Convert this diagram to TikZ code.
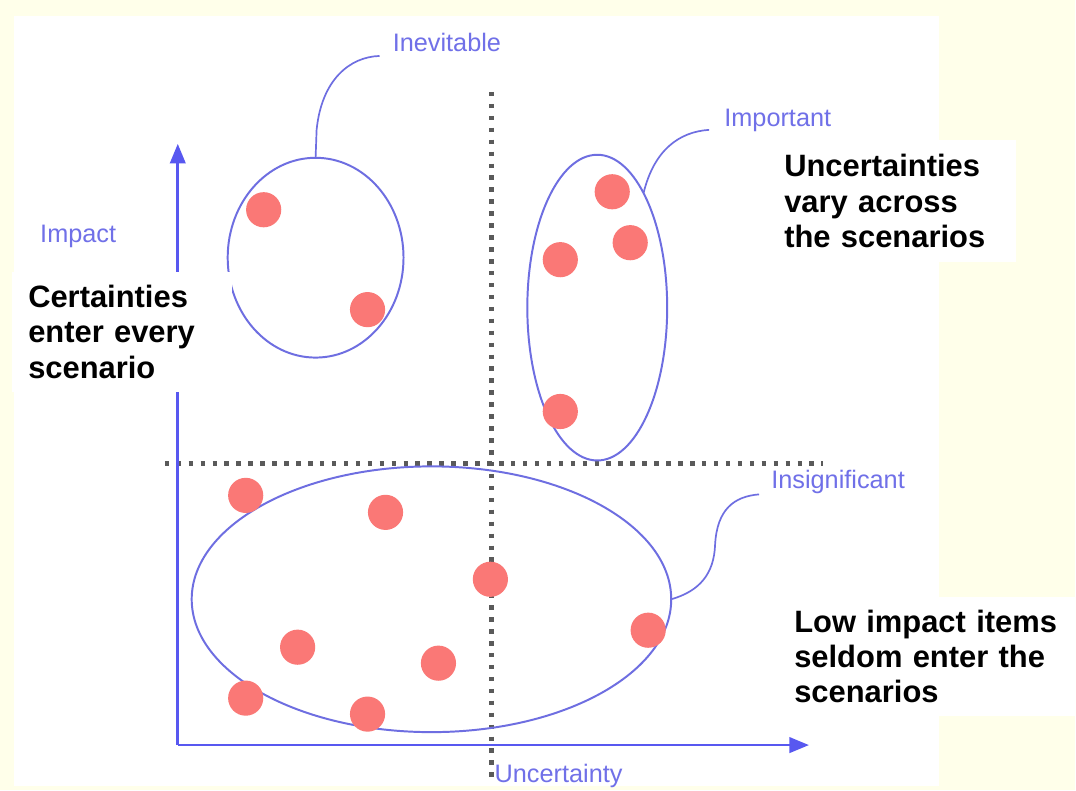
\documentclass[tikz,border=0pt]{standalone}
\usepackage{fontspec}
\setmainfont{Liberation Sans}
\usetikzlibrary{shapes.geometric,arrows.meta}

\definecolor{cream}{RGB}{255,255,234}
\definecolor{axisblue}{RGB}{88,88,240}
\definecolor{ringblue}{RGB}{110,110,225}
\definecolor{tagblue}{RGB}{112,112,232}
\definecolor{dotred}{RGB}{250,120,118}
\definecolor{gridgray}{RGB}{90,90,90}

\begin{document}
\begin{tikzpicture}[x=0.025cm, y=-0.025cm,
  axis/.style = {draw=axisblue, line width=2pt,
    -{Triangle[length=14pt, width=11pt]}},
  split/.style = {draw=gridgray, line width=3.2pt,
    dash pattern=on 3.2pt off 5.3pt},
  group/.style = {shape=ellipse, draw=ringblue, line width=1.4pt,
    inner sep=0pt, outer sep=0pt},
  lead/.style = {draw=ringblue, line width=1.2pt},
  tag/.style = {font=\fontsize{18}{20}\selectfont, text=tagblue,
    inner sep=0pt, anchor=base west},
  note/.style = {fill=white, anchor=north west, align=left,
    inner ysep=0pt, minimum height=3cm,
    font=\fontsize{22}{25}\selectfont\bfseries},
  dot/.style = {shape=circle, fill=dotred, inner sep=0pt,
    minimum size=0.88cm}]

  % paper and plotting area
  \fill[cream] (0,0) rectangle (1076,791);
  \fill[white] (14,16) rectangle (940,787);

  % quadrant lines
  \draw[split] (492,92) -- (492,782);
  \draw[split] (165,464) -- (824,464);

  % axes
  \coordinate (origin) at (178,746);
  \coordinate (ytip) at (178,144);
  \coordinate (xtip) at (810,746);
  \draw[axis] (origin) -- (ytip);
  \draw[axis] (origin) -- (xtip);
  \node[tag] (ylbl) at (40,243) {Impact};
  \node[tag] (xlbl) at (495,783) {Uncertainty};

  % groups of items
  \node[group, minimum width=4.4cm, minimum height=5cm] (inev) at (316,258) {};
  \node[group, minimum width=3.5cm, minimum height=7.65cm] (imp) at (598,308) {};
  \node[group, minimum width=12cm, minimum height=6.65cm] (ins) at (432,600) {};

  \foreach \px/\py [count=\i] in {264/210, 368/310,
      613/192, 631/243, 561/260, 561/412,
      246/496, 386/513, 491/580, 649/631,
      298/648, 439/664, 246/699, 368/715}
    \node[dot] (d\i) at (\px,\py) {};

  % group names and their leaders
  \node[tag] (inevlbl) at (393,52) {Inevitable};
  \node[tag] (implbl) at (725,127) {Important};
  \node[tag] (inslbl) at (772,489) {Insignificant};

  \draw[lead] (inev.north) -- (317,130)
    .. controls (322,80) and (350,57) .. ([shift={(-13,4)}]inevlbl.base west);
  \draw[lead] (imp.68)
    .. controls (655,150) and (680,132) .. ([shift={(-15,3)}]implbl.base west);
  \draw[lead] (ins.east) .. controls (700,592) and (715,575) .. (716,545)
    .. controls (718,510) and (735,497) .. ([shift={(-12,6)}]inslbl.base west);

  % notes
  \node[note, inner xsep=0.4cm, text width=4.7cm] (certain) at (12,272)
    {Certainties\\enter every\\scenario};
  \node[note, inner xsep=0.25cm, text width=5.55cm, minimum height=3.05cm]
    (uncertain) at (775,140)
    {Uncertainties\\vary across\\the scenarios};
  \node[note, inner xsep=0.3cm, text width=6.75cm] (lowimp) at (783,597)
    {Low impact items\\seldom enter the\\scenarios};
\end{tikzpicture}
\end{document}
